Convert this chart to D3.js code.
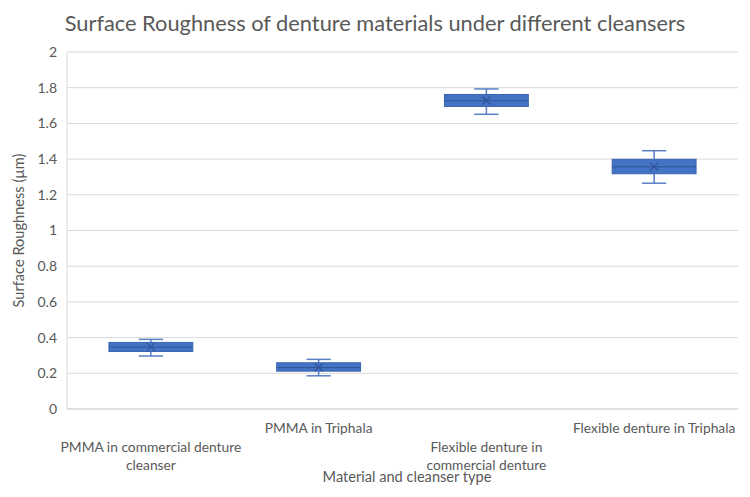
<!DOCTYPE html>
<html>
<head>
<meta charset="utf-8">
<script src="https://cdn.jsdelivr.net/npm/d3@7"></script>
<style>
  body { margin: 0; background: #fff; }
  svg text { font-family: Lato, "Open Sans", sans-serif; fill: #595959; }
</style>
</head>
<body>
<div id="chart"></div>
<script>
// data
const categories = [
  ["PMMA in commercial denture", "cleanser"],
  ["PMMA in Triphala"],
  ["Flexible denture in", "commercial denture"],
  ["Flexible denture in Triphala"]
];
const whiskerLow  = [0.297, 0.186, 1.651, 1.265];
const q1          = [0.322, 0.212, 1.695, 1.318];
const median      = [0.347, 0.232, 1.727, 1.357];
const q3          = [0.373, 0.259, 1.762, 1.399];
const whiskerHigh = [0.390, 0.278, 1.793, 1.447];
const means       = [0.348, 0.234, 1.728, 1.358];
const yTicks = [0, 0.2, 0.4, 0.6, 0.8, 1, 1.2, 1.4, 1.6, 1.8, 2];

const width = 750, height = 497;
const margin = {top: 52, right: 12, bottom: 88, left: 67};
const innerW = width - margin.left - margin.right;
const innerH = height - margin.top - margin.bottom;

// excel staggers the category labels: 0 = upper row, 1 = lower row
const labelRow = [1, 0, 1, 0];

const svg = d3.select("#chart").append("svg")
  .attr("width", width)
  .attr("height", height);

svg.append("text")
  .attr("x", 375)
  .attr("y", 31)
  .attr("text-anchor", "middle")
  .style("font-size", "21.8px")
  .text("Surface Roughness of denture materials under different cleansers");

const g = svg.append("g")
  .attr("transform", `translate(${margin.left},${margin.top})`);

const x = d3.scaleBand()
  .domain(d3.range(categories.length))
  .range([0, innerW]);

const y = d3.scaleLinear()
  .domain([0, 2])
  .range([innerH, 0]);

// gridlines
g.append("g")
  .selectAll("line")
  .data(yTicks)
  .join("line")
    .attr("x1", 0)
    .attr("x2", innerW)
    .attr("y1", d => y(d))
    .attr("y2", d => y(d))
    .attr("stroke", d => d === 0 ? "#bfbfbf" : "#d9d9d9")
    .attr("stroke-width", 1);

g.append("line")
  .attr("x1", 0).attr("x2", 0)
  .attr("y1", 0).attr("y2", innerH)
  .attr("stroke", "#d9d9d9");

// y tick labels
g.append("g")
  .selectAll("text")
  .data(yTicks)
  .join("text")
    .attr("x", -10)
    .attr("y", d => y(d))
    .attr("dy", "0.35em")
    .attr("text-anchor", "end")
    .style("font-size", "14px")
    .text(d => d3.format("")(d));

// boxes
const boxW = x.bandwidth() * 0.5;
const capW = boxW * 0.29;
const idx = d3.range(categories.length);
const cx = i => x(i) + x.bandwidth() / 2;

const boxes = g.append("g");

boxes.selectAll(".whisker")
  .data(idx)
  .join("line")
    .attr("class", "whisker")
    .attr("x1", cx).attr("x2", cx)
    .attr("y1", i => y(whiskerLow[i]))
    .attr("y2", i => y(whiskerHigh[i]))
    .attr("stroke", "#5a7fc4")
    .attr("stroke-width", 1.5);

[whiskerLow, whiskerHigh].forEach(arr => {
  boxes.append("g").selectAll("line")
    .data(idx)
    .join("line")
      .attr("x1", i => cx(i) - capW / 2)
      .attr("x2", i => cx(i) + capW / 2)
      .attr("y1", i => y(arr[i]))
      .attr("y2", i => y(arr[i]))
      .attr("stroke", "#5a7fc4")
      .attr("stroke-width", 1.5);
});

boxes.selectAll(".box")
  .data(idx)
  .join("rect")
    .attr("class", "box")
    .attr("x", i => cx(i) - boxW / 2)
    .attr("y", i => y(q3[i]))
    .attr("width", boxW)
    .attr("height", i => y(q1[i]) - y(q3[i]))
    .attr("fill", "#4472c4")
    .attr("stroke", "#3a64b0")
    .attr("stroke-width", 1);

boxes.selectAll(".median")
  .data(idx)
  .join("line")
    .attr("class", "median")
    .attr("x1", i => cx(i) - boxW / 2)
    .attr("x2", i => cx(i) + boxW / 2)
    .attr("y1", i => y(median[i]))
    .attr("y2", i => y(median[i]))
    .attr("stroke", "#2f5597")
    .attr("stroke-width", 1);

// mean marker (x)
const mk = 4;
boxes.selectAll(".mean")
  .data(idx)
  .join("path")
    .attr("class", "mean")
    .attr("d", i => {
      const px = cx(i), py = y(means[i]);
      return `M${px - mk},${py - mk}L${px + mk},${py + mk}M${px - mk},${py + mk}L${px + mk},${py - mk}`;
    })
    .attr("stroke", "#2f5597")
    .attr("stroke-width", 1.3)
    .attr("fill", "none");

// category labels
const lab = g.append("g")
  .selectAll("text")
  .data(idx)
  .join("text")
    .attr("text-anchor", "middle")
    .attr("transform", i => `translate(${cx(i)},${innerH + (labelRow[i] ? 43 : 24)})`)
    .style("font-size", "13.8px");

lab.selectAll("tspan")
  .data(i => categories[i])
  .join("tspan")
    .attr("x", 0)
    .attr("dy", (d, j) => j === 0 ? 0 : 18)
    .text(d => d);

// axis titles
svg.append("text")
  .attr("x", 407)
  .attr("y", 482)
  .attr("text-anchor", "middle")
  .style("font-size", "14.6px")
  .text("Material and cleanser type");

svg.append("text")
  .attr("transform", `translate(24,${margin.top + innerH / 2}) rotate(-90)`)
  .attr("text-anchor", "middle")
  .style("font-size", "14.6px")
  .text("Surface Roughness (µm)");
</script>
</body>
</html>
